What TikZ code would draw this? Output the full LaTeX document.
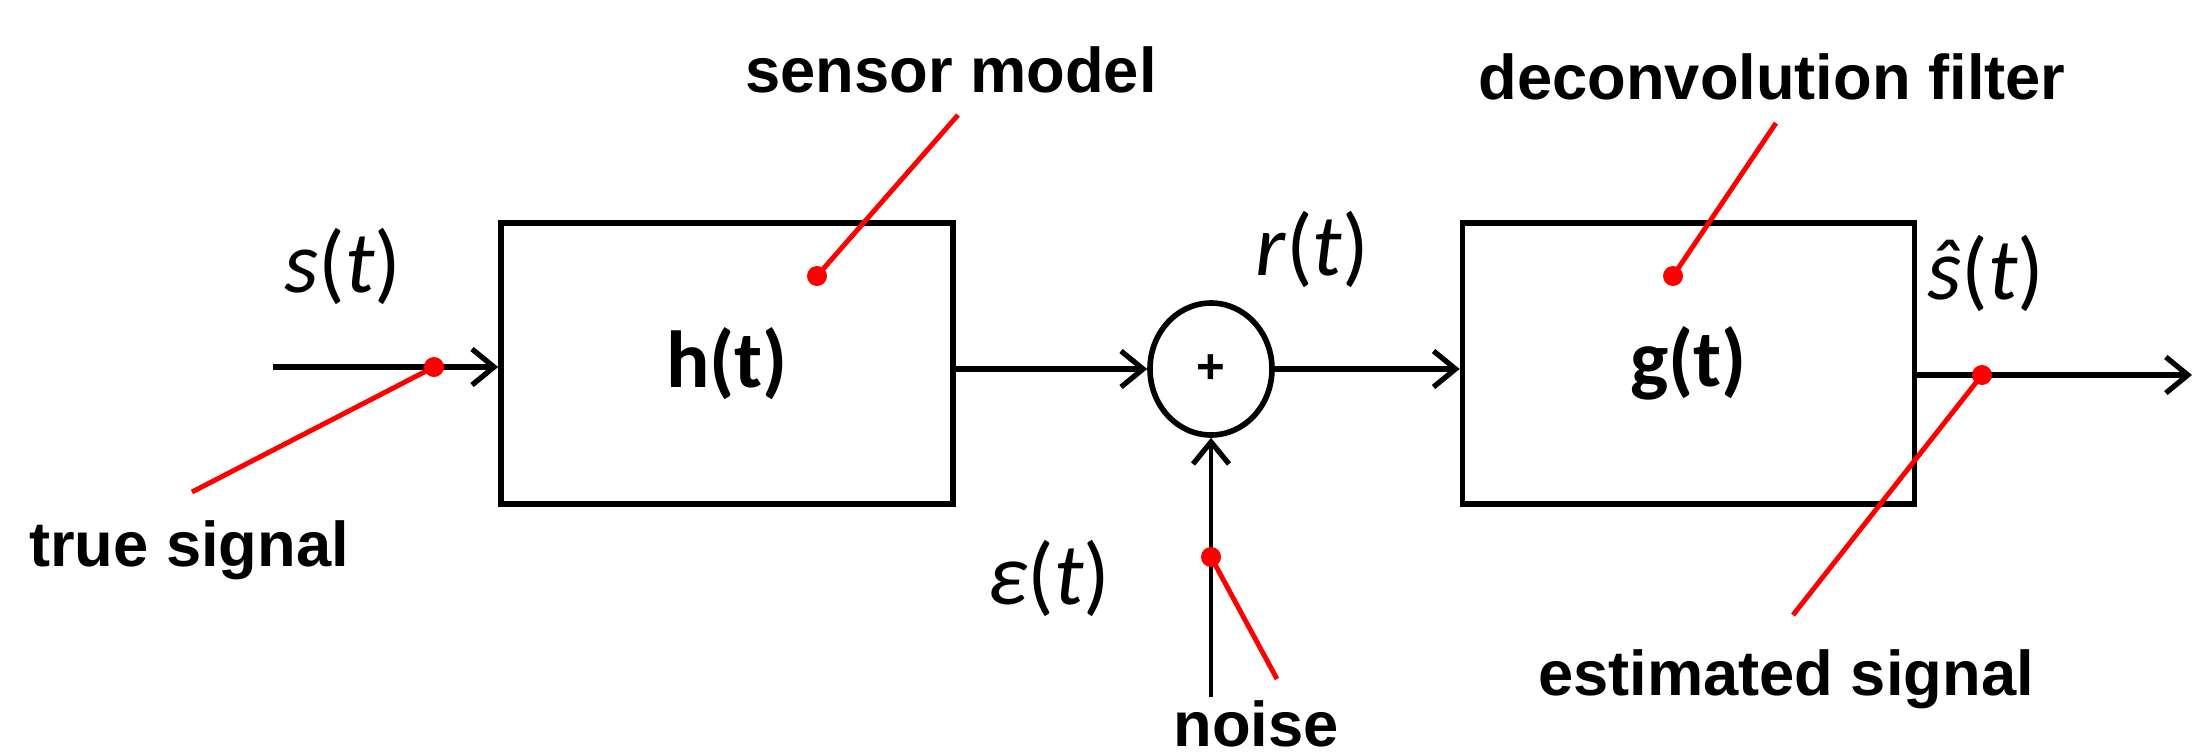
\documentclass[tikz,border=0pt]{standalone}
\usepackage{fontspec}
\setmainfont{Liberation Sans}
\newfontfamily\calfont{Carlito}
\usetikzlibrary{arrows.meta,shapes.geometric}

\begin{document}
\begin{tikzpicture}[x=1cm,y=1cm]
	\tikzset{block/.style={draw,line width=1.6pt,minimum width=4.52cm,minimum height=2.81cm,font=\calfont\bfseries\fontsize{23}{26}\selectfont}}
	\tikzset{sig/.style={font=\calfont\itshape\fontsize{25}{29}\selectfont}}
	\tikzset{tag/.style={font=\bfseries\fontsize{18}{21}\selectfont,inner sep=1pt}}
	\tikzset{flow/.style={line width=1.6pt,-{Straight Barb[length=2.2mm,width=3.6mm,line width=1.5pt]}}}
	\tikzset{pointer/.style={red,line width=1.4pt}}
	\tikzset{dot/.style={circle,fill=red,inner sep=0pt,minimum size=2mm}}
	\useasboundingbox (0,0) rectangle (21.93,7.55);

	% blocks
	\node[block] (h) at (7.27,3.915) {h(t)};
	\node[block] (g) at (16.885,3.915) {g(t)};
	\node[ellipse,draw,line width=1.6pt,minimum width=1.22cm,minimum height=1.32cm,inner sep=0pt] (sum) at (12.11,3.86) {\bfseries\fontsize{14}{14}\selectfont +};

	% free ends
	\coordinate (in) at (2.73,3.88);
	\coordinate (out) at (21.92,3.80);
	\coordinate (nz) at (12.11,0.58);

	% signal flow
	\draw[flow] (in) -- (in -| h.west);
	\draw[flow] (sum.west -| h.east) -- (sum.west);
	\draw[flow] (sum.east) -- (sum.east -| g.west);
	\draw[flow] (out -| g.east) -- (out);
	\draw[flow,line width=1.1pt] (nz) -- (sum.south);

	% signal names
	\node[sig] (ls) at (3.43,4.89) {s\textup{(}t\textup{)}};
	\node[sig] (lr) at (13.12,5.06) {r\textup{(}t\textup{)}};
	\node[sig] (lshat) at (19.86,4.82) {ŝ\textup{(}t\textup{)}};
	\node[sig] (leps) at (10.49,1.77) {ε\textup{(}t\textup{)}};

	% captions
	\node[tag] (ltrue) at (1.89,2.05) {true signal};
	\node[tag] (lsensor) at (9.51,6.85) {sensor model};
	\node[tag] (ldeconv) at (17.72,6.78) {deconvolution filter};
	\node[tag] (lest) at (17.86,0.76) {estimated signal};
	\node[tag] (lnoise) at (12.56,0.31) {noise};

	% pointer ends
	\coordinate (etrue) at (1.92,2.63);
	\coordinate (esensor) at (9.58,6.40);
	\coordinate (edeconv) at (17.76,6.32);
	\coordinate (eest) at (17.93,1.40);
	\coordinate (enoise) at (12.77,0.76);

	% pointers
	\node[dot] (dtrue) at (4.34,3.88) {};
	\node[dot] (dsensor) at (8.17,4.79) {};
	\node[dot] (ddeconv) at (16.73,4.79) {};
	\node[dot] (dest) at (19.82,3.80) {};
	\node[dot] (dnoise) at (12.11,1.98) {};
	\draw[pointer] (dtrue.center) -- (etrue);
	\draw[pointer] (dsensor.center) -- (esensor);
	\draw[pointer] (ddeconv.center) -- (edeconv);
	\draw[pointer] (dest.center) -- (eest);
	\draw[pointer] (dnoise.center) -- (enoise);
\end{tikzpicture}
\end{document}
